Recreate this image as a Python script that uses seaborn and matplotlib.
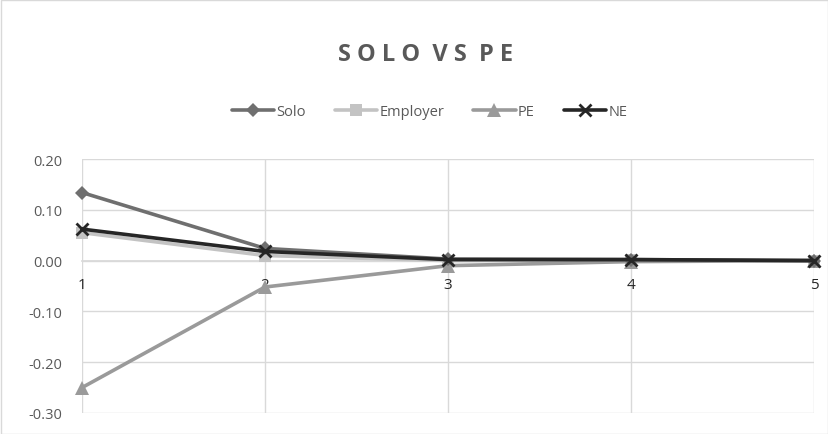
import matplotlib
matplotlib.use("Agg")
import matplotlib.pyplot as plt
import seaborn as sns
import pandas as pd
from matplotlib.patches import Rectangle

periods = [1, 2, 3, 4, 5]
solo = [0.134, 0.024, 0.003, 0.002, 0.000]
employer = [0.055, 0.010, 0.000, 0.001, 0.000]
pe = [-0.250, -0.052, -0.010, -0.002, 0.000]
ne = [0.062, 0.018, 0.002, 0.002, 0.000]
series_names = ["Solo", "Employer", "PE", "NE"]
y_ticks = [0.20, 0.10, 0.00, -0.10, -0.20, -0.30]

df = pd.DataFrame({
    "period": periods * 4,
    "value": solo + employer + pe + ne,
    "series": [n for n in series_names for _ in periods],
})

sns.set_theme(style="white")
plt.rcParams["font.family"] = ["Open Sans", "DejaVu Sans"]

fig = plt.figure(figsize=(8.29, 4.35), dpi=100)
ax = fig.add_axes([82 / 829, 1 - 414 / 435, (814 - 82) / 829, (414 - 160) / 435])

palette = {"Solo": "#6f6f6f", "Employer": "#c3c3c3", "PE": "#9a9a9a", "NE": "#262626"}
markers = {"Solo": "D", "Employer": "s", "PE": "^", "NE": "x"}
sizes = {"Solo": 7.5, "Employer": 8.5, "PE": 10, "NE": 9}
edge_widths = {"Solo": 0, "Employer": 0, "PE": 0, "NE": 2}

# draw lighter series first so NE sits on top
for name in ["Employer", "PE", "Solo", "NE"]:
    sub = df[df["series"] == name]
    sns.lineplot(data=sub, x="period", y="value", ax=ax, color=palette[name],
                 linewidth=2.6, marker=markers[name], markersize=sizes[name],
                 markeredgewidth=edge_widths[name], markeredgecolor=palette[name],
                 label=name, legend=False, zorder=3, clip_on=False)

ax.set_xlim(1, 5)
ax.set_ylim(-0.30, 0.20)
ax.set_yticks(y_ticks)
ax.set_yticklabels([f"{v:.2f}" for v in y_ticks], color="#595959", fontsize=10.5)
ax.set_xticks(periods)
ax.set_xticklabels([str(p) for p in periods], color="#595959", fontsize=10.5)
ax.tick_params(axis="x", length=0, pad=12)
ax.tick_params(axis="y", length=0, pad=14)
ax.grid(True, color="#d9d9d9", linewidth=1)
ax.set_axisbelow(True)
for side in ["top", "right", "left"]:
    ax.spines[side].set_visible(False)
ax.spines["bottom"].set_position(("data", 0))
ax.spines["bottom"].set_color("#d9d9d9")
ax.set_xlabel("")
ax.set_ylabel("")

# legend in the order of the series
handles, labels = ax.get_legend_handles_labels()
order = [labels.index(n) for n in series_names]
fig.legend([handles[i] for i in order], [labels[i] for i in order],
           loc="center", bbox_to_anchor=(0.518, 1 - 113 / 435), ncol=4, frameon=False,
           fontsize=10.5, labelcolor="#595959", handlelength=2.9, handletextpad=0.15,
           columnspacing=2.0)

fig.text(0.513, 1 - 55 / 435, "S O L O  V S  P E", ha="center", va="center",
         fontsize=17, fontweight="bold", color="#595959")

fig.patches.append(Rectangle((0.001, 0.001), 0.998, 0.997, transform=fig.transFigure,
                             fill=False, edgecolor="#d9d9d9", linewidth=1))

fig.savefig("out.png", dpi=100)
